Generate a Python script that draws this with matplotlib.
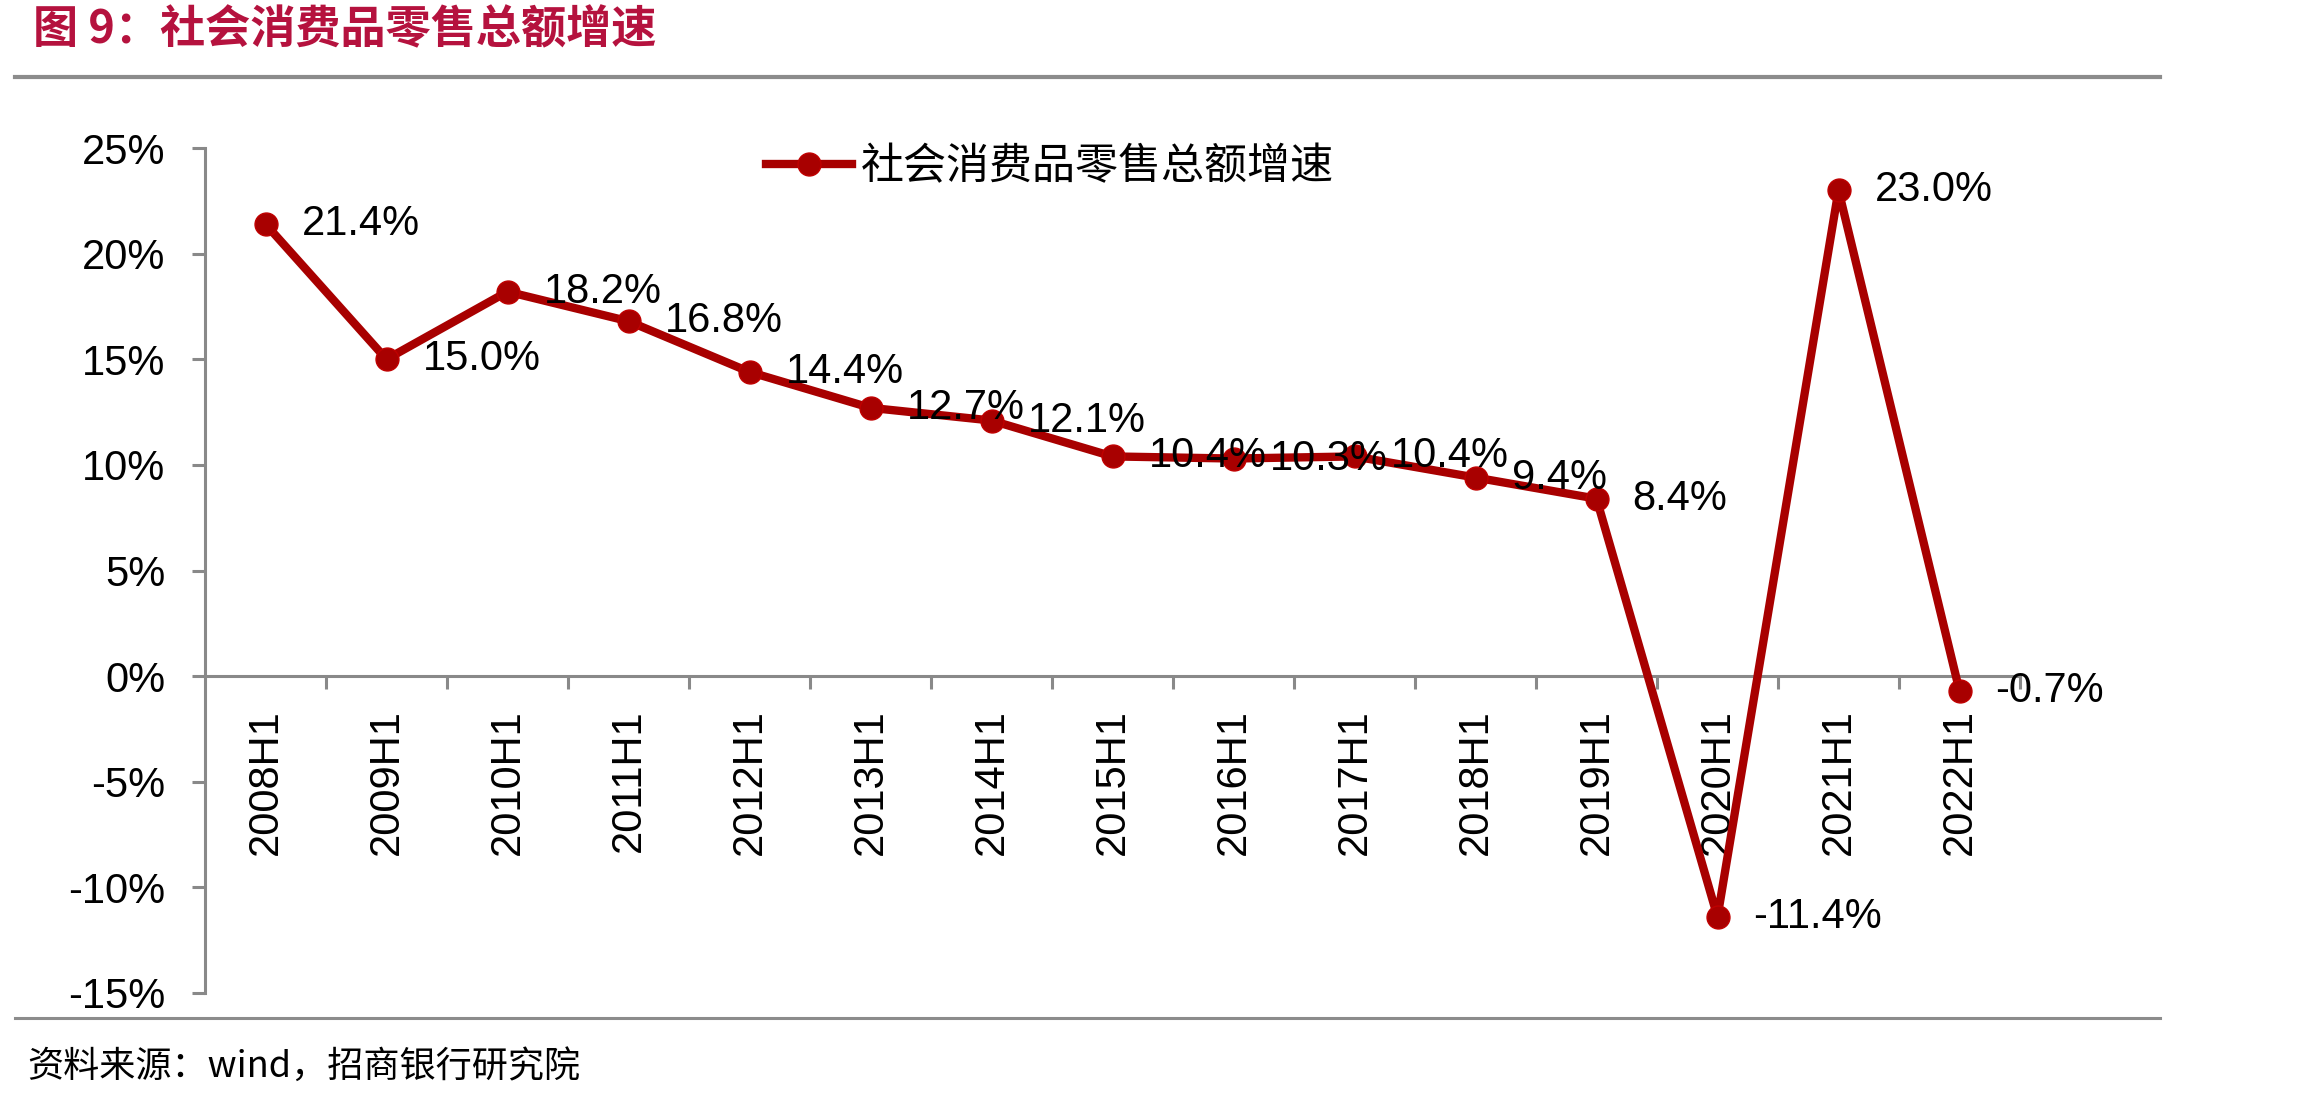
import matplotlib
matplotlib.use("Agg")
import matplotlib.pyplot as plt
from matplotlib.lines import Line2D
from matplotlib.ticker import FuncFormatter, FixedLocator

plt.rcParams['font.family'] = ['Liberation Sans', 'Noto Sans CJK SC', 'DejaVu Sans']

categories = ["2008H1", "2009H1", "2010H1", "2011H1", "2012H1", "2013H1", "2014H1",
              "2015H1", "2016H1", "2017H1", "2018H1", "2019H1", "2020H1", "2021H1", "2022H1"]
growth = [21.4, 15.0, 18.2, 16.8, 14.4, 12.7, 12.1, 10.4, 10.3, 10.4, 9.4, 8.4, -11.4, 23.0, -0.7]
y_ticks = [-15, -10, -5, 0, 5, 10, 15, 20, 25]
series_name = "社会消费品零售总额增速"
title = "图 9：社会消费品零售总额增速"
source = "资料来源：wind，招商银行研究院"

W, H = 2318, 1104
fig = plt.figure(figsize=(W / 100, H / 100), dpi=100)
ax = fig.add_axes([205 / W, 1 - 993 / H, (2020 - 205) / W, (993 - 148) / H])

line_color = "#A80000"
axis_gray = "#898989"

x = list(range(len(categories)))
ln, = ax.plot(x, growth, color=line_color, linewidth=6.0, marker='o', markersize=16.5,
              markerfacecolor=line_color, markeredgecolor="#C00000", markeredgewidth=1.0,
              label=series_name, zorder=3, clip_on=False)

for xi, v in zip(x, growth):
    ax.annotate(f"{v:.1f}%", (xi, v), xytext=(26, 0), textcoords='offset points',
                ha='left', va='center', fontsize=30, color='black', zorder=4)

ax.set_xlim(-0.5, len(categories) - 0.5)
ax.set_ylim(min(y_ticks), max(y_ticks))

ax.spines['top'].set_visible(False)
ax.spines['right'].set_visible(False)
ax.spines['left'].set_color(axis_gray)
ax.spines['left'].set_linewidth(2.2)
ax.spines['bottom'].set_color(axis_gray)
ax.spines['bottom'].set_linewidth(2.2)
ax.spines['bottom'].set_position(('data', 0))

ax.set_yticks(y_ticks)
ax.yaxis.set_major_formatter(FuncFormatter(lambda v, p: f"{int(v)}%"))
ax.tick_params(axis='y', direction='out', length=9.5, width=2.2, color=axis_gray,
               labelsize=30, pad=19)

ax.set_xticks(x)
ax.set_xticklabels(categories, rotation=90)
ax.tick_params(axis='x', which='major', length=0, labelsize=30, pad=24)
ax.xaxis.set_minor_locator(FixedLocator([i + 0.5 for i in range(len(categories))]))
ax.tick_params(axis='x', which='minor', direction='out', length=9.5, width=2.2, color=axis_gray)

leg = ax.legend(handles=[ln], loc='center', bbox_to_anchor=(1050 / W, 1 - 167 / H),
                bbox_transform=fig.transFigure, frameon=False, handlelength=2.0,
                handletextpad=0.2, prop={'family': 'Noto Sans CJK SC', 'size': 31})

fig.text(33 / W, 1 - 30 / H, title, ha='left', va='center', fontsize=32.5, fontweight='bold',
         color="#B5123E", family=['Noto Sans CJK SC', 'DejaVu Sans'])
fig.text(27 / W, 1 - 1067 / H, source, ha='left', va='center', fontsize=26,
         color='black', family=['Noto Sans CJK SC', 'DejaVu Sans'])

fig.add_artist(Line2D([15 / W, 2160 / W], [1 - 77 / H, 1 - 77 / H], color="#8C8C8C",
                      linewidth=3.0, transform=fig.transFigure))
fig.add_artist(Line2D([15 / W, 2160 / W], [1 - 1018 / H, 1 - 1018 / H], color="#8C8C8C",
                      linewidth=2.2, transform=fig.transFigure))

fig.savefig("out.png", dpi=100)
